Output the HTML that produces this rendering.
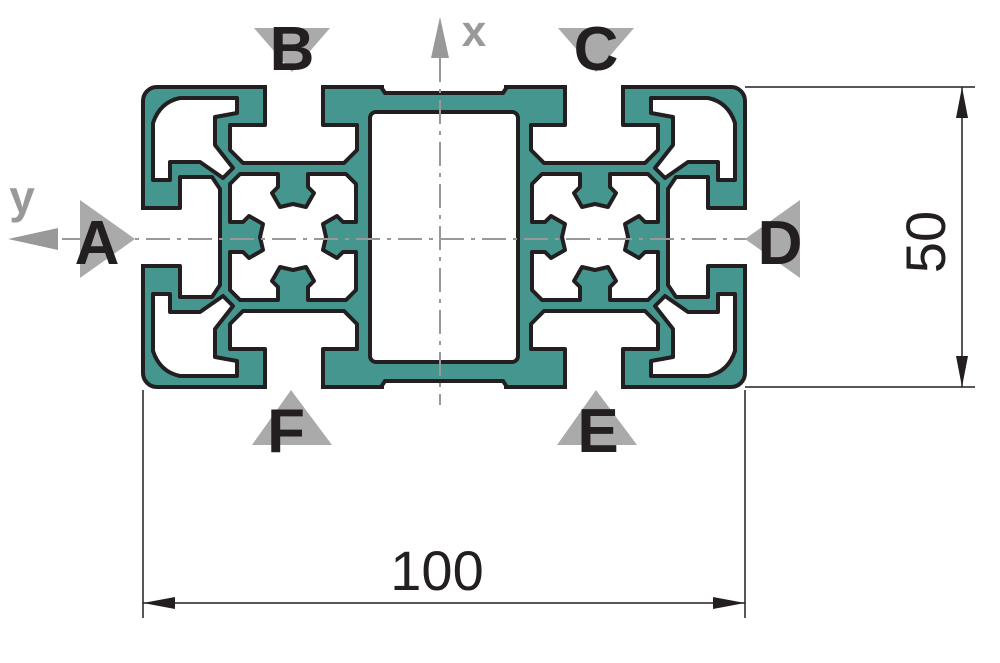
<!DOCTYPE html>
<html><head><meta charset="utf-8"><style>html,body{margin:0;padding:0;background:#fff}svg{display:block}</style></head>
<body>
<svg width="1000" height="663" viewBox="0 0 1000 663" xmlns="http://www.w3.org/2000/svg">
<defs>
<g id="quad">
  <polygon points="265,70 265,125 230,125 230,150 243,163 344,163 357,150 357,125 323,125 323,70" fill="#fff" stroke="#231f20" stroke-width="4" stroke-linejoin="round"/>
  <path d="M153,123 Q160,102 180,98 L237,98 L237,113 L215,117 L215,145 L233,168 L223,178 L200,162 L170,162 L170,180 L153,180 Z" fill="#fff" stroke="#231f20" stroke-width="4" stroke-linejoin="round"/>
</g>
<g id="leftslot">
  <polygon points="130,208 180,208 180,177 212,177 220,189 220,285 212,297 180,297 180,266 130,266" fill="#fff" stroke="#231f20" stroke-width="4" stroke-linejoin="round"/>
</g>
<g id="node">
  <polygon points="-53,-63 -15,-63 -15,-50 -21,-44 -13,-30 0,-33 13,-30 21,-44 15,-50 15,-63 53,-63 63,-53 63,-15 50,-15 44,-21 30,-13 33,0 30,13 44,21 50,15 63,15 63,53 53,63 15,63 15,50 21,44 13,30 0,33 -13,30 -21,44 -15,50 -15,63 -53,63 -63,53 -63,15 -50,15 -44,21 -30,13 -33,0 -30,-13 -44,-21 -50,-15 -63,-15 -63,-53" fill="#fff" stroke="#231f20" stroke-width="4" stroke-linejoin="round"/>
</g>
</defs>
<rect x="143" y="87" width="602" height="300" rx="14" fill="#45968f" stroke="#231f20" stroke-width="4"/>
<use href="#quad"/>
<use href="#quad" transform="matrix(-1,0,0,1,888,0)"/>
<use href="#quad" transform="matrix(1,0,0,-1,0,474)"/>
<use href="#quad" transform="matrix(-1,0,0,-1,888,474)"/>
<use href="#leftslot"/>
<use href="#leftslot" transform="matrix(-1,0,0,1,888,0)"/>
<use href="#node" transform="translate(293,237)"/>
<use href="#node" transform="translate(595,237)"/>
<rect x="370" y="112" width="148" height="250" rx="6" fill="#fff" stroke="#231f20" stroke-width="4"/>
<rect x="250" y="55" width="90" height="30" fill="#fff"/>
<rect x="548" y="55" width="90" height="30" fill="#fff"/>
<rect x="250" y="389" width="90" height="30" fill="#fff"/>
<rect x="548" y="389" width="90" height="30" fill="#fff"/>
<rect x="118" y="200" width="23" height="74" fill="#fff"/>
<rect x="747" y="200" width="23" height="74" fill="#fff"/>
<rect x="384" y="83" width="120" height="9" fill="#fff"/>
<path d="M381,87 L385,93 L503,93 L507,87" fill="none" stroke="#231f20" stroke-width="4"/>
<rect x="384" y="382" width="120" height="9" fill="#fff"/>
<path d="M381,387 L385,381 L503,381 L507,387" fill="none" stroke="#231f20" stroke-width="4"/>
<g stroke="#999" stroke-width="2" stroke-dasharray="24,7,4,7" fill="none">
<line x1="62" y1="239" x2="770" y2="239"/>
<line x1="440" y1="58" x2="440" y2="405"/>
</g>
<polygon points="440,17 431,58 449,58" fill="#999"/>
<text x="474" y="46" font-family="Liberation Sans, sans-serif" font-weight="bold" font-size="44" fill="#999" text-anchor="middle">x</text>
<polygon points="8,239 58,228 58,250" fill="#999"/>
<text x="22" y="213" font-family="Liberation Sans, sans-serif" font-weight="bold" font-size="46" fill="#999" text-anchor="middle">y</text>
<g fill="#aaa">
<polygon points="254,28 330,28 292,72"/>
<polygon points="558,28 634,28 596,72"/>
<polygon points="80,200 80,278 135,239"/>
<polygon points="800,200 800,278 745,239"/>
<polygon points="291,390 252,445 332,445"/>
<polygon points="596,390 557,445 637,445"/>
</g>
<g font-family="Liberation Sans, sans-serif" font-weight="bold" font-size="62" fill="#231f20" text-anchor="middle">
<text x="292" y="70">B</text>
<text x="596" y="70">C</text>
<text x="97" y="264">A</text>
<text x="780" y="264">D</text>
<text x="286" y="452">F</text>
<text x="598" y="452">E</text>
</g>
<g stroke="#231f20" stroke-width="1.5" fill="none">
<line x1="745" y1="87" x2="975" y2="87"/>
<line x1="745" y1="387" x2="975" y2="387"/>
<line x1="962" y1="87" x2="962" y2="387"/>
<line x1="143" y1="390" x2="143" y2="618"/>
<line x1="745" y1="390" x2="745" y2="618"/>
<line x1="143" y1="603" x2="745" y2="603"/>
</g>
<g fill="#231f20">
<polygon points="962,87 956,118 968,118"/>
<polygon points="962,387 956,356 968,356"/>
<polygon points="143,603 175,597 175,609"/>
<polygon points="745,603 713,597 713,609"/>
</g>
<text x="437" y="590" font-family="Liberation Sans, sans-serif" font-size="56" fill="#231f20" text-anchor="middle">100</text>
<text transform="translate(945,242) rotate(-90)" font-family="Liberation Sans, sans-serif" font-size="56" fill="#231f20" text-anchor="middle">50</text>
</svg>
</body></html>
